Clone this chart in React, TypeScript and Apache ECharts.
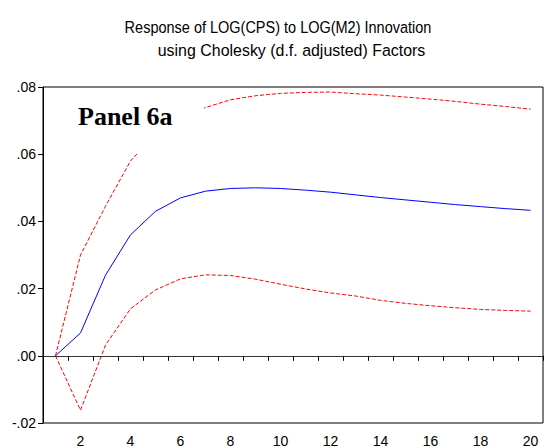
import React, { useEffect, useRef } from "react";
import * as echarts from "echarts";

const periods = ["1","2","3","4","5","6","7","8","9","10","11","12","13","14","15","16","17","18","19","20"];
const response = [0, 0.0068, 0.024, 0.036, 0.043, 0.047, 0.049, 0.0498, 0.05, 0.0498, 0.0493, 0.0487, 0.0479, 0.0471, 0.0464, 0.0457, 0.045, 0.0444, 0.0438, 0.0433];
const upperBand = [0, 0.03, 0.0445, 0.058, 0.066, 0.071, 0.0739, 0.0762, 0.0774, 0.0781, 0.0784, 0.0785, 0.078, 0.0776, 0.077, 0.0764, 0.0757, 0.0749, 0.0742, 0.0734];
const lowerBand = [0, -0.0162, 0.0032, 0.014, 0.0196, 0.0229, 0.0241, 0.0239, 0.0228, 0.0213, 0.0199, 0.0187, 0.0178, 0.0165, 0.0156, 0.0149, 0.0143, 0.0138, 0.0135, 0.0133];
const titleLines = ["Response of LOG(CPS) to LOG(M2) Innovation", "using Cholesky (d.f. adjusted) Factors"];
const panelLabel = "Panel 6a";

export default function App() {
  const ref = useRef<HTMLDivElement>(null);
  useEffect(() => {
    if (!ref.current) return;
    const chart = echarts.init(ref.current, undefined, { renderer: "svg" });
    const dashed = { color: "#ff0000", width: 1, type: [4, 2] as any };
    const titleFont = "14.5px 'Liberation Sans', Arial, sans-serif";
    chart.setOption({
      animation: false,
      backgroundColor: "#fff",
      grid: { left: 43, top: 87, right: 1, bottom: 22, show: true, borderColor: "#000", borderWidth: 1, backgroundColor: "transparent" },
      xAxis: {
        type: "category",
        data: periods,
        boundaryGap: true,
        axisLine: { lineStyle: { color: "#000", width: 1 } },
        axisTick: { show: true, interval: 0, length: 5, lineStyle: { color: "#000" } },
        axisLabel: {
          interval: (i: number) => i % 2 === 1,
          color: "#000",
          fontSize: 14,
          fontFamily: "Liberation Sans, Arial, sans-serif",
          margin: 11,
        },
        splitLine: { show: false },
      },
      yAxis: {
        type: "value",
        min: -0.02,
        max: 0.08,
        interval: 0.02,
        axisLine: { show: true, lineStyle: { color: "#000", width: 1 } },
        axisTick: { show: true, length: 5, lineStyle: { color: "#000" } },
        axisLabel: {
          color: "#000",
          fontSize: 14,
          fontFamily: "Liberation Sans, Arial, sans-serif",
          margin: 7,
          formatter: (v: number) => v.toFixed(2).replace("0.", "."),
        },
        splitLine: { show: false },
      },
      series: [
        {
          type: "line",
          data: response,
          symbol: "none",
          lineStyle: { color: "#0000ff", width: 1 },
          z: 3,
          markLine: {
            silent: true,
            symbol: "none",
            label: { show: false },
            lineStyle: { color: "#333", width: 1, type: "solid" },
            data: [{ yAxis: 0 }],
          },
        },
        { type: "line", data: upperBand, symbol: "none", lineStyle: dashed, z: 2 },
        { type: "line", data: lowerBand, symbol: "none", lineStyle: dashed, z: 2 },
      ],
      graphic: [
        {
          type: "text",
          x: 278,
          y: 27.5,
          scaleY: 1.18,
          style: { text: titleLines[0], fill: "#000", font: titleFont, textAlign: "center", textVerticalAlign: "middle", verticalAlign: "middle" } as any,
        },
        {
          type: "text",
          x: 291.5,
          y: 50.5,
          scaleX: 1.1,
          scaleY: 1.18,
          style: { text: titleLines[1], fill: "#000", font: titleFont, textAlign: "center", textVerticalAlign: "middle", verticalAlign: "middle" } as any,
        },
        {
          type: "rect",
          shape: { x: 70, y: 95, width: 134, height: 59 },
          style: { fill: "#fff" },
          z: 100,
        },
        {
          type: "text",
          x: 78,
          y: 103,
          z: 101,
          style: {
            text: panelLabel,
            fill: "#000",
            font: "bold 26px 'Liberation Serif', 'Times New Roman', serif",
          },
        },
      ],
    });
    return () => chart.dispose();
  }, []);
  return <div ref={ref} style={{ width: 544, height: 448, position: "absolute", left: 0, top: 0 }} />;
}
